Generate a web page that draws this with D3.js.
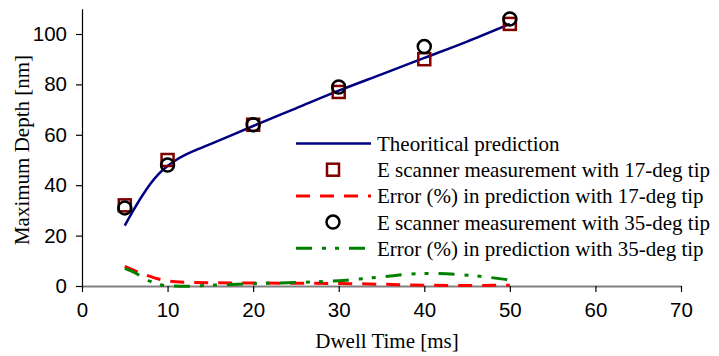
<!DOCTYPE html>
<html>
<head>
<meta charset="utf-8">
<script src="https://cdn.jsdelivr.net/npm/d3@7"></script>
<style>
  body { margin: 0; background: #fff; }
  svg { display: block; }
</style>
</head>
<body>
<svg id="chart" width="719" height="356"></svg>
<script>
// measured points
const dwellMeas = [5, 10, 20, 30, 40, 50];
const depth17 = [32, 50, 64, 77, 90, 104];
const depth35 = [31, 48, 64, 79, 95, 106];

// theoretical curve
const theoryX = [5, 6, 7, 8, 9, 10, 11, 12, 13, 15, 20, 25, 30, 35, 40, 45, 50];
const theoryY = [24, 30, 35.6, 40.6, 44.6, 47.6, 50, 51.9, 53.5, 56.3, 63.5, 70.5, 77.5, 84, 90.5, 97, 104];

// error curves
const err17X = [5, 7.5, 10, 12, 15, 20, 25, 30, 35, 40, 45, 50];
const err17 = [7.8, 4.3, 2, 1.5, 1.3, 1.2, 1.1, 1.0, 0.7, 0.3, 0.2, 0.3];
const err35X = [5, 6, 7, 8, 9, 10, 12, 15, 20, 25, 30, 35, 40, 45, 50];
const err35 = [7, 5.6, 3.6, 1.8, 0.6, 0.1, -0.1, 0.3, 0.9, 1.4, 2.1, 3.6, 5.0, 4.3, 2.4];

const xTicks = [0, 10, 20, 30, 40, 50, 60, 70];
const yTicks = [0, 20, 40, 60, 80, 100];

const legendLabels = [
  "Theoritical prediction",
  "E scanner measurement with 17-deg tip",
  "Error (%) in prediction with 17-deg tip",
  "E scanner measurement with 35-deg tip",
  "Error (%) in prediction with 35-deg tip"
];

const svg = d3.select("#chart");
const x = d3.scaleLinear().domain([0, 70]).range([82, 681]);
const y = d3.scaleLinear().domain([0, 110]).range([286, 8.8]);

const sans = "Liberation Sans, Arial, sans-serif";
const serif = "Liberation Serif, Times New Roman, serif";

// axes
const xAxis = svg.append("g")
  .attr("transform", `translate(0,${y(0)})`)
  .call(d3.axisBottom(x).tickValues(xTicks).tickSize(6).tickPadding(10).tickSizeOuter(0));
xAxis.select(".domain").attr("stroke", "#808080").attr("stroke-width", 2);
xAxis.selectAll(".tick line").attr("stroke", "#000").attr("stroke-width", 1.2);
xAxis.selectAll("text").attr("font-family", sans).attr("font-size", 20.5).attr("fill", "#000");

const yAxis = svg.append("g")
  .attr("transform", `translate(${x(0)},0)`)
  .call(d3.axisLeft(y).tickValues(yTicks).tickSize(6).tickPadding(9).tickSizeOuter(0));
yAxis.select(".domain").attr("stroke", "#000").attr("stroke-width", 1.2);
yAxis.selectAll(".tick line").attr("stroke", "#000").attr("stroke-width", 1.2);
yAxis.selectAll("text").attr("font-family", sans).attr("font-size", 20.5).attr("fill", "#000");

// axis titles
svg.append("text")
  .attr("x", 387).attr("y", 348)
  .attr("text-anchor", "middle")
  .attr("font-family", serif).attr("font-size", 21)
  .text("Dwell Time [ms]");

svg.append("text")
  .attr("transform", "translate(29,150) rotate(-90)")
  .attr("text-anchor", "middle")
  .attr("font-family", serif).attr("font-size", 21)
  .text("Maximum Depth [nm]");

const line = d3.line()
  .x(d => x(d[0]))
  .y(d => y(d[1]))
  .curve(d3.curveMonotoneX);

const styles = [
  { stroke: "#000080", dash: null },
  { marker: "square" },
  { stroke: "#ff0000", dash: "14,10" },
  { marker: "circle" },
  { stroke: "#008000", dash: "16,10,4,9,4,10" }
];

// theoretical
svg.append("path")
  .datum(d3.zip(theoryX, theoryY))
  .attr("d", line)
  .attr("fill", "none")
  .attr("stroke", styles[0].stroke)
  .attr("stroke-width", 2.5);

// 17-deg squares
svg.append("g").selectAll("rect")
  .data(d3.zip(dwellMeas, depth17))
  .join("rect")
  .attr("x", d => x(d[0]) - 6)
  .attr("y", d => y(d[1]) - 6)
  .attr("width", 12).attr("height", 12)
  .attr("fill", "none")
  .attr("stroke", "#800000")
  .attr("stroke-width", 2.5);

// 17-deg error
svg.append("path")
  .datum(d3.zip(err17X, err17))
  .attr("d", line)
  .attr("fill", "none")
  .attr("stroke", styles[2].stroke)
  .attr("stroke-width", 3)
  .attr("stroke-dasharray", styles[2].dash);

// 35-deg circles
svg.append("g").selectAll("circle")
  .data(d3.zip(dwellMeas, depth35))
  .join("circle")
  .attr("cx", d => x(d[0]))
  .attr("cy", d => y(d[1]))
  .attr("r", 6.5)
  .attr("fill", "none")
  .attr("stroke", "#000")
  .attr("stroke-width", 2.5);

// 35-deg error
svg.append("path")
  .datum(d3.zip(err35X, err35))
  .attr("d", line)
  .attr("fill", "none")
  .attr("stroke", styles[4].stroke)
  .attr("stroke-width", 3)
  .attr("stroke-dasharray", styles[4].dash);

// legend
const legend = svg.append("g");
const rowY = i => 143.5 + i * 26.2;
legendLabels.forEach((label, i) => {
  const s = styles[i];
  const cy = rowY(i);
  if (s.marker === "square") {
    legend.append("rect")
      .attr("x", 333 - 6).attr("y", cy - 6)
      .attr("width", 12).attr("height", 12)
      .attr("fill", "none").attr("stroke", "#800000").attr("stroke-width", 2.5);
  } else if (s.marker === "circle") {
    legend.append("circle")
      .attr("cx", 333).attr("cy", cy).attr("r", 6.5)
      .attr("fill", "none").attr("stroke", "#000").attr("stroke-width", 2.5);
  } else {
    legend.append("line")
      .attr("x1", 296).attr("x2", 371)
      .attr("y1", cy).attr("y2", cy)
      .attr("stroke", s.stroke)
      .attr("stroke-width", i === 0 ? 2.5 : 3)
      .attr("stroke-dasharray", s.dash);
  }
  legend.append("text")
    .attr("x", 377).attr("y", cy + 7.5)
    .attr("font-family", serif).attr("font-size", 21)
    .text(label);
});
</script>
</body>
</html>
